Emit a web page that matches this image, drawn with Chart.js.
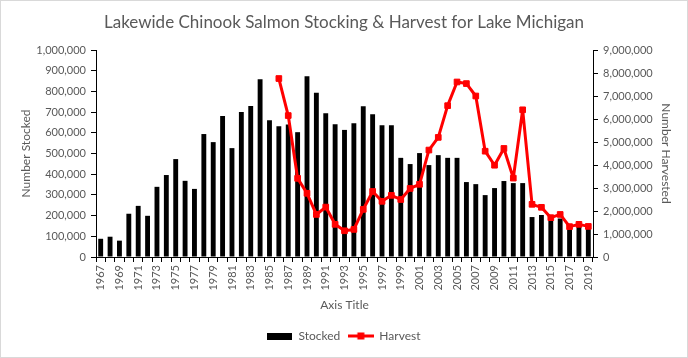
<!DOCTYPE html>
<html>
<head>
<meta charset="utf-8">
<script src="https://cdn.jsdelivr.net/npm/chart.js@4.4.1/dist/chart.umd.min.js"></script>
<style>
html,body{margin:0;padding:0;background:#fff;}
#wrap{width:688px;height:358px;position:relative;}
</style>
</head>
<body>
<div id="wrap"><canvas id="c" width="688" height="358"></canvas></div>
<script>
const years = [];
for (let y = 1967; y <= 2019; y++) years.push(String(y));

const stocked = [88000, 98000, 79000, 209000, 247000, 199000, 339000, 396000, 473000, 368000,
  329000, 594000, 555000, 681000, 526000, 700000, 729000, 859000, 661000, 632000,
  640000, 603000, 873000, 793000, 695000, 641000, 614000, 646000, 728000, 690000,
  637000, 637000, 479000, 449000, 502000, 444000, 492000, 479000, 479000, 362000,
  352000, 299000, 333000, 367000, 357000, 357000, 193000, 203000, 177000, 186000,
  141000, 164000, 152000];

const harvest = [null, null, null, null, null, null, null, null, null, null,
  null, null, null, null, null, null, null, null, null, 7760000,
  6150000, 3420000, 2770000, 1850000, 2170000, 1420000, 1140000, 1200000, 2070000, 2850000,
  2420000, 2680000, 2500000, 2980000, 3160000, 4650000, 5200000, 6580000, 7610000, 7540000,
  7000000, 4600000, 3990000, 4720000, 3430000, 6400000, 2290000, 2160000, 1710000, 1850000,
  1320000, 1420000, 1330000];

const titleText = 'Lakewide Chinook Salmon Stocking & Harvest for Lake Michigan';
const txt = '#595959';
const FONT = 'Lato';

function makeIcon(kind) {
  const cv = document.createElement('canvas');
  if (kind === 'bar') {
    cv.width = 25; cv.height = 7;
    const g = cv.getContext('2d');
    g.fillStyle = '#000'; g.fillRect(0, 0, 25, 7);
  } else {
    cv.width = 26; cv.height = 8;
    const g = cv.getContext('2d');
    g.fillStyle = '#ff0000';
    g.fillRect(0, 2.5, 26, 3);
    g.fillRect(9.5, 0.5, 7, 7);
  }
  return cv;
}

const borderPlugin = {
  id: 'border',
  beforeDraw(chart) {
    const g = chart.ctx;
    g.save();
    g.fillStyle = '#fff';
    g.fillRect(0, 0, chart.width, chart.height);
    g.strokeStyle = '#d9d9d9';
    g.lineWidth = 1;
    g.strokeRect(0.5, 0.5, chart.width - 1, chart.height - 1);
    g.restore();
  }
};

const fmt = v => Number(v).toLocaleString('en-US');

new Chart(document.getElementById('c'), {
  type: 'bar',
  data: {
    labels: years,
    datasets: [
      {
        type: 'line', label: 'Harvest', data: harvest, yAxisID: 'y1',
        borderColor: '#ff0000', backgroundColor: '#ff0000', borderWidth: 3,
        borderJoinStyle: 'round', borderCapStyle: 'round',
        pointStyle: 'rect', pointRadius: 4, pointBorderWidth: 1,
        pointBackgroundColor: '#ff0000', pointBorderColor: '#ff0000',
        tension: 0, spanGaps: false, order: 1
      },
      {
        type: 'bar', label: 'Stocked', data: stocked, yAxisID: 'y',
        backgroundColor: '#000', borderWidth: 0,
        barPercentage: 0.52, categoryPercentage: 1.0, order: 2
      }
    ]
  },
  options: {
    responsive: false,
    animation: false,
    layout: { padding: { top: 0, left: 0, right: 0, bottom: 6 } },
    plugins: {
      tooltip: { enabled: false },
      title: {
        display: true, text: titleText, color: txt,
        font: { family: FONT, size: 17, weight: 'normal', lineHeight: 1.2 },
        padding: { top: 12, bottom: 17.6 }
      },
      legend: {
        position: 'bottom',
        labels: {
          color: txt,
          font: { family: FONT, size: 12 },
          usePointStyle: true,
          pointStyleWidth: 25,
          padding: 8,
          generateLabels() {
            return [
              { text: 'Stocked', pointStyle: makeIcon('bar'), fillStyle: '#000', strokeStyle: '#000', lineWidth: 0, fontColor: txt, datasetIndex: 1 },
              { text: 'Harvest', pointStyle: makeIcon('line'), fillStyle: '#f00', strokeStyle: '#f00', lineWidth: 0, fontColor: txt, datasetIndex: 0 }
            ];
          }
        }
      }
    },
    scales: {
      x: {
        offset: true,
        grid: { display: true, drawOnChartArea: false, drawTicks: true, tickLength: 5, color: '#000', offset: true },
        border: { display: true, color: '#000', width: 1 },
        ticks: {
          autoSkip: false, maxRotation: 90, minRotation: 90, color: txt, padding: 3,
          font: { family: FONT, size: 11 },
          callback(v, i) { return i % 2 === 0 ? years[i] : ''; }
        },
        title: { display: true, text: 'Axis Title', color: txt, font: { family: FONT, size: 12 }, padding: { top: 0, bottom: 10 } },
        afterFit(s) { s.height = 65; }
      },
      y: {
        position: 'left', min: 0, max: 1000000,
        grid: { display: true, drawOnChartArea: false, drawTicks: true, tickLength: 5, color: '#000' },
        border: { display: true, color: '#000', width: 1 },
        ticks: { stepSize: 100000, color: txt, padding: 5, font: { family: FONT, size: 11 }, callback: fmt },
        title: { display: true, text: 'Number Stocked', color: txt, font: { family: FONT, size: 12 }, padding: { top: 19, bottom: 0 } },
        afterFit(s) { s.width = 96; }
      },
      y1: {
        position: 'right', min: 0, max: 9000000,
        grid: { display: true, drawOnChartArea: false, drawTicks: true, tickLength: 5, color: '#000' },
        border: { display: true, color: '#000', width: 1 },
        ticks: { stepSize: 1000000, color: txt, padding: 5, font: { family: FONT, size: 11 }, callback: fmt },
        title: { display: true, text: 'Number Harvested', color: txt, font: { family: FONT, size: 12 }, padding: { top: 15, bottom: 0 } },
        afterFit(s) { s.width = 95; }
      }
    }
  },
  plugins: [borderPlugin]
});
</script>
</body>
</html>
